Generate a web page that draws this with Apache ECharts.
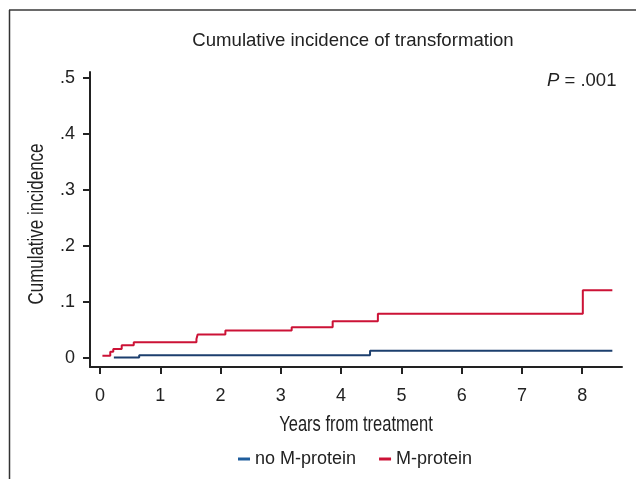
<!DOCTYPE html>
<html>
<head>
<meta charset="utf-8">
<script src="https://cdn.jsdelivr.net/npm/echarts@6/dist/echarts.min.js"></script>
<style>
html,body{margin:0;padding:0;background:#fff;}
#chart{width:636px;height:479px;}
</style>
</head>
<body>
<div id="chart"></div>
<script>
// Data
const seriesNames = ['no M-protein', 'M-protein'];
const noMProtein = [[0.23,0.001],[0.65,0.005],[4.48,0.013],[8.5,0.013]];
const mProtein = [[0.04,0.004],[0.17,0.011],[0.22,0.016],[0.36,0.023],[0.56,0.028],[1.6,0.034],[1.62,0.042],[2.08,0.049],[3.18,0.055],[3.86,0.0655],[4.61,0.079],[8.01,0.121],[8.5,0.121]];
const xTicks = [0,1,2,3,4,5,6,7,8];
const yTicks = [0,0.1,0.2,0.3,0.4,0.5];
const titleText = 'Cumulative incidence of transformation';
const xName = 'Years from treatment';
const yName = 'Cumulative incidence';
const pText = '.001';

const chart = echarts.init(document.getElementById('chart'));
const fam = '"Liberation Sans", Arial, sans-serif';
const axisColor = '#222';
chart.setOption({
  animation:false,
  textStyle:{fontFamily:fam},
  title:{
    text:titleText, left:348, top:26, textAlign:'center',
    textStyle:{fontSize:18.6, fontWeight:'normal', color:'#222', fontFamily:fam}
  },
  graphic:[
    {type:'line', shape:{x1:9,y1:10,x2:636,y2:10}, style:{stroke:'#6a6a6a', lineWidth:2}},
    {type:'line', shape:{x1:9.5,y1:10,x2:9.5,y2:479}, style:{stroke:'#333', lineWidth:1.5}},
    {type:'text', x:547, y:81, style:{
      text:'{i|P}{n| = ' + pText + '}', verticalAlign:'middle', textVerticalAlign:'middle',
      rich:{i:{fontStyle:'italic', fontSize:18.5, fontFamily:fam, fill:'#222', color:'#222'},
            n:{fontSize:18.5, fontFamily:fam, fill:'#222', color:'#222'}}
    }},
    {type:'text', x:356, y:425, scaleX:0.75, style:{
      text:xName, font:'22px "Liberation Sans", Arial, sans-serif', fill:'#222',
      align:'center', verticalAlign:'middle', textAlign:'center', textVerticalAlign:'middle'
    }},
    {type:'text', x:37, y:224, rotation:Math.PI/2, scaleX:0.77, style:{
      text:yName, font:'22px "Liberation Sans", Arial, sans-serif', fill:'#222',
      align:'center', verticalAlign:'middle', textAlign:'center', textVerticalAlign:'middle'
    }}
  ],
  legend:{
    data:seriesNames, top:450, left:238, padding:0,
    icon:'rect', itemWidth:12, itemHeight:3, itemGap:23,
    textStyle:{fontSize:18, color:'#222', fontFamily:fam}
  },
  grid:{left:90, right:14, top:72, bottom:112, containLabel:false},
  xAxis:{
    type:'value', min:-0.166, max:8.66,
    axisLine:{show:true, onZero:false, lineStyle:{color:axisColor, width:2}},
    axisTick:{show:true, customValues:xTicks, length:7, lineStyle:{color:axisColor, width:2}},
    axisLabel:{customValues:xTicks, fontSize:18, color:'#222', margin:20},
    splitLine:{show:false}
  },
  yAxis:{
    type:'value', min:-0.016, max:0.51,
    axisLine:{show:true, onZero:false, lineStyle:{color:axisColor, width:2}},
    axisTick:{show:true, customValues:yTicks, length:7, lineStyle:{color:axisColor, width:2}},
    axisLabel:{customValues:yTicks, fontSize:18, color:'#222', margin:15,
      formatter:v => v === 0 ? '0' : String(Math.round(v*10)/10).replace(/^0/, '')},
    splitLine:{show:false}
  },
  series:[
    {name:seriesNames[0], type:'line', step:'end', data:noMProtein, showSymbol:false, symbol:'none',
     color:'#1c3f6e', lineStyle:{width:2, color:'#1c3f6e'}, itemStyle:{color:'#1f5d9c'}},
    {name:seriesNames[1], type:'line', step:'end', data:mProtein, showSymbol:false, symbol:'none',
     color:'#cc1236', lineStyle:{width:2, color:'#cc1236'}, itemStyle:{color:'#cc1236'}}
  ]
});
</script>
</body>
</html>
